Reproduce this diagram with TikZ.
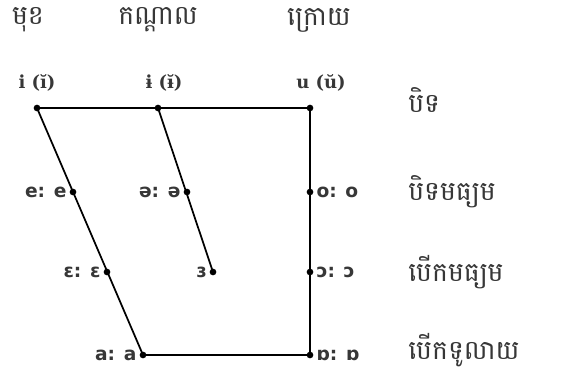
\documentclass[tikz,border=0pt]{standalone}
\usepackage{fontspec}
\usepackage{xcolor}
\usetikzlibrary{positioning}
\newfontfamily\khmerfont[Script=Khmer]{Battambang}
\newfontfamily\ipafont{DejaVu Sans}
\newfontfamily\ipaserif{DejaVu Serif}
\definecolor{cText}{RGB}{55,55,55}
\tikzset{
	vdot/.style={circle, fill=black, inner sep=0pt, minimum size=5pt},
	chartline/.style={line width=1.3pt, line join=round},
	ipaleft/.style={font=\ipafont\bfseries\fontsize{14}{16}\selectfont, text=cText, anchor=east, inner sep=2pt},
	iparight/.style={font=\ipafont\bfseries\fontsize{14}{16}\selectfont, text=cText, anchor=west, inner sep=2pt},
	toplabel/.style={font=\ipaserif\bfseries\fontsize{13.5}{16}\selectfont, text=cText},
	khmerlabel/.style={font=\khmerfont\fontsize{20}{24}\selectfont, text=cText, anchor=west, inner sep=0pt},
	khmerhead/.style={font=\khmerfont\fontsize{20}{24}\selectfont, text=cText, inner sep=0pt},
}
\begin{document}
\begin{tikzpicture}[x=0.75pt, y=-0.75pt]
	\useasboundingbox (0,0) rectangle (563,374);
	% vowel points
	\node[vdot] (i) at (37,108) {};
	\node[vdot] (ih) at (158,108) {};
	\node[vdot] (u) at (310,108) {};
	\node[vdot] (e) at (73,192) {};
	\node[vdot] (schwa) at (187,192) {};
	\node[vdot] (o) at (310,192) {};
	\node[vdot] (eps) at (107,272) {};
	\node[vdot] (rev) at (213,272) {};
	\node[vdot] (oo) at (310,272) {};
	\node[vdot] (a) at (143,355) {};
	\node[vdot] (ao) at (310,355) {};
	% chart outline
	\draw[chartline] (i.center) -- (u.center) -- (ao.center) -- (a.center) -- (i.center);
	\draw[chartline] (ih.center) -- (rev.center);
	% vowel labels
	\node[toplabel] (li) at (37,83) {i (ĭ)};
	\node[toplabel] (lih) at (164,83) {ɨ (ɨ̆)};
	\node[toplabel] (lu) at (321,83) {u (ŭ)};
	\node[ipaleft] at (e.west) {e: e};
	\node[ipaleft] at (schwa.west) {ə: ə};
	\node[iparight] at (o.east) {o: o};
	\node[ipaleft] at (eps.west) {ɛ: ɛ};
	\node[ipaleft] at (rev.west) {ɜ};
	\node[iparight] at (oo.east) {ɔ: ɔ};
	\node[ipaleft] at (a.west) {a: a};
	\node[iparight] at (ao.east) {ɒ: ɒ};
	% headings
	\node[khmerhead] (front) at (28,20) {មុខ};
	\node[khmerhead] (central) at (158,20) {កណ្តាល};
	\node[khmerhead] (back) at (319,20) {ក្រោយ};
	\node[khmerlabel] (close) at (408,100) {បិទ};
	\node[khmerlabel] (closemid) at (408,192) {បិទមធ្យម};
	\node[khmerlabel] (openmid) at (408,272) {បើកមធ្យម};
	\node[khmerlabel] (open) at (408,350) {បើកទូលាយ};
\end{tikzpicture}
\end{document}
